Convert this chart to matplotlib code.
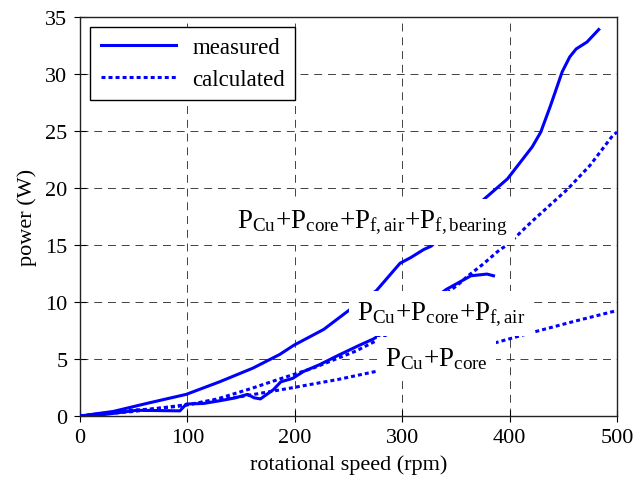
import matplotlib
matplotlib.use("Agg")
import matplotlib.pyplot as plt

plt.rcParams["font.family"] = ["Liberation Serif", "DejaVu Serif"]
plt.rcParams["mathtext.fontset"] = "custom"
plt.rcParams["mathtext.rm"] = "Liberation Serif"
plt.rcParams["mathtext.it"] = "Liberation Serif:italic"

BLUE = "#0000FF"

# --- donnees ----------------------------------------------------------------
# mesure : pertes totales (avec roulements)
rpm_meas_tot = [0, 31, 62, 99, 130, 161, 186, 199, 227, 255, 276, 298, 308,
                320, 327, 350, 376, 398, 421, 429, 438, 449, 456, 462, 472, 483]
p_meas_tot = [0, 0.4, 1.1, 1.9, 3.0, 4.2, 5.4, 6.2, 7.6, 9.6, 11.0, 13.4,
              13.9, 14.6, 14.9, 17.0, 19.0, 20.8, 23.6, 24.9, 27.2, 30.2,
              31.5, 32.2, 32.8, 33.9]

# mesure : Cu + fer + frottement air
rpm_meas_air = [0, 20, 53, 93, 99, 115, 131, 145, 156, 162, 168, 174, 180,
                187, 198, 208, 223, 240, 260, 273, 300, 341, 364, 379, 385]
p_meas_air = [0, 0.1, 0.5, 0.45, 1.05, 1.1, 1.35, 1.6, 1.9, 1.6, 1.5, 1.9,
              2.3, 3.0, 3.3, 3.9, 4.5, 5.3, 6.2, 6.75, 8.3, 11.1, 12.3,
              12.45, 12.3]

# calcul : pertes totales
rpm_calc_tot = [0, 46, 65, 96, 128, 159, 186, 217, 257, 280, 320, 353, 360,
                375, 391, 398, 420, 454, 475, 496, 500]
p_calc_tot = [0, 0.5, 0.6, 0.9, 1.5, 2.4, 3.25, 4.2, 5.7, 6.8, 9.2, 11.6,
              12.2, 13.3, 14.6, 15.0, 17.0, 19.9, 22.0, 24.6, 24.9]

# calcul : Cu + fer
rpm_calc_cu = [0, 50, 100, 150, 196, 240, 280, 330, 382, 420, 460, 500]
p_calc_cu = [0, 0.4, 1.0, 1.7, 2.45, 3.2, 4.0, 5.1, 6.3, 7.3, 8.3, 9.25]

x_ticks = [0, 100, 200, 300, 400, 500]
y_ticks = [0, 5, 10, 15, 20, 25, 30, 35]

# --- figure -------------------------------------------------------------------
fig = plt.figure(figsize=(6.36, 4.89), dpi=100)
ax = fig.add_axes([80 / 636, 1 - 417 / 489, 537 / 636, 399 / 489])

dots = (0, (1.3, 1.0))
ax.plot(rpm_meas_tot, p_meas_tot, color=BLUE, lw=2.2, label="measured",
        zorder=3)
ax.plot(rpm_calc_tot, p_calc_tot, color=BLUE, lw=2.2, ls=dots,
        label="calculated", zorder=3)
ax.plot(rpm_meas_air, p_meas_air, color=BLUE, lw=2.2, zorder=3)
ax.plot(rpm_calc_cu, p_calc_cu, color=BLUE, lw=2.2, ls=dots, zorder=3)

ax.set_xlim(0, 500)
ax.set_ylim(0, 35)
ax.set_xticks(x_ticks)
ax.set_yticks(y_ticks)
ax.tick_params(direction="inout", length=8, width=0.8, labelsize=16,
               colors="black", pad=5)
ax.grid(True, color="#222222", lw=0.6, ls=(0, (9.5, 7)))
for sp in ax.spines.values():
    sp.set_linewidth(1.0)
    sp.set_color("#222222")

ax.set_xlabel("rotational speed (rpm)", fontsize=16, labelpad=5)
ax.set_ylabel("power (W)", fontsize=16, labelpad=6)

# etiquettes des courbes (fond blanc qui masque les traits)
box = dict(facecolor="white", edgecolor="none", boxstyle="square,pad=0.3")
lab_top = r"$\mathrm{P_{Cu}{+}P_{core}{+}P_{f,air}{+}P_{f,bearing}}$"
lab_mid = r"$\mathrm{P_{Cu}{+}P_{core}{+}P_{f,air}}$"
lab_low = r"$\mathrm{P_{Cu}{+}P_{core}}$"
ax.text(272, 17.0, lab_top, fontsize=19.5, ha="center", va="center",
        bbox=box, zorder=5)
ax.text(336, 9.0, lab_mid, fontsize=19.5, ha="center", va="center",
        bbox=box, zorder=5)
ax.text(332, 5.1, lab_low, fontsize=19.5, ha="center", va="center",
        bbox=box, zorder=4)

leg = ax.legend(loc="upper left", bbox_to_anchor=(0.019, 0.975),
                borderaxespad=0, fontsize=16.5, handlelength=3.3,
                fancybox=False, framealpha=1, edgecolor="black",
                borderpad=0.45, labelspacing=0.45, handletextpad=0.7)
leg.get_frame().set_linewidth(1.0)

fig.savefig("out.png", dpi=100)
